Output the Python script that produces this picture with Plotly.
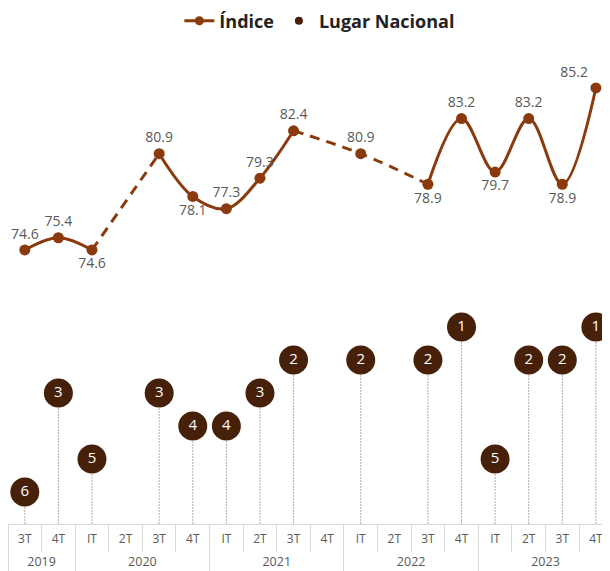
import plotly.graph_objects as go

# ---------------- data ----------------
years = ["2019", "2019",
         "2020", "2020", "2020", "2020",
         "2021", "2021", "2021", "2021",
         "2022", "2022", "2022", "2022",
         "2023", "2023", "2023", "2023"]
quarters = ["3T", "4T",
            "IT", "2T", "3T", "4T",
            "IT", "2T", "3T", "4T",
            "IT", "2T", "3T", "4T",
            "IT", "2T", "3T", "4T"]
indice = [74.6, 75.4, 74.6, None, 80.9, 78.1, 77.3, 79.3, 82.4, None,
          80.9, None, 78.9, 83.2, 79.7, 83.2, 78.9, 85.2]
lugar = [6, 3, 5, None, 3, 4, 4, 3, 2, None, 2, None, 2, 1, 5, 2, 2, 1]

label_pos = ["top center", "top center", "bottom center", "top center",
             "top center", "bottom center", "top center", "top center",
             "top center", "top center", "top center", "top center",
             "bottom center", "top center", "bottom center", "top center",
             "bottom center", "top left"]

# ---------------- style ----------------
LINE_C = "#8B3A0E"
BUB_C = "#47200A"
TXT_C = "#595959"
AX_C = "#D9D9D9"
STEM_C = "#B8ABA2"
FONT = "Open Sans"

n = len(quarters)
xs = list(range(n))  # category positions

# year groups (centres and boundaries derived from the year list)
year_names, year_start = [], []
for i, y in enumerate(years):
    if not year_names or year_names[-1] != y:
        year_names.append(y)
        year_start.append(i)
year_end = year_start[1:] + [n]
year_centres = [(s + e - 1) / 2 for s, e in zip(year_start, year_end)]
year_bounds = [s - 0.5 for s in year_start] + [n - 0.5]
quarter_bounds = [i - 0.5 for i in range(n + 1)]

# dashed chains bridging the missing quarters
valid = [i for i, v in enumerate(indice) if v is not None]
bridges = []
for a, b in zip(valid[:-1], valid[1:]):
    if b - a > 1:
        if bridges and bridges[-1][-1] == a:
            bridges[-1].append(b)
        else:
            bridges.append([a, b])

fig = go.Figure()

# legend entries
fig.add_trace(go.Scatter(x=[None], y=[None], xaxis="x", yaxis="y2",
                         mode="lines+markers", name="Índice",
                         line=dict(color=LINE_C, width=3),
                         marker=dict(color=LINE_C, size=9)))
fig.add_trace(go.Scatter(x=[None], y=[None], xaxis="x", yaxis="y2",
                         mode="markers", name="Lugar Nacional",
                         marker=dict(color=BUB_C, size=8)))

# empty holders so the overlay axes (separators / year labels) are drawn
for ax in ["x2", "x3", "x4"]:
    fig.add_trace(go.Scatter(x=[None], y=[None], xaxis=ax, yaxis="y2",
                             mode="markers", showlegend=False,
                             hoverinfo="skip"))

# dashed bridges
for chain in bridges:
    yy = [indice[i] if i in chain else None for i in range(n)]
    fig.add_trace(go.Scatter(x=xs, y=yy, mode="lines", connectgaps=True,
                             line=dict(color=LINE_C, width=3, shape="spline",
                                       dash="10px,7px"),
                             showlegend=False, hoverinfo="skip",
                             xaxis="x", yaxis="y"))

# main index line
fig.add_trace(go.Scatter(
    x=xs, y=indice, mode="lines+markers+text", connectgaps=False,
    line=dict(color=LINE_C, width=3, shape="spline"),
    marker=dict(color=LINE_C, size=11),
    text=[f"{v:.1f}" if v is not None else "" for v in indice],
    textposition=label_pos,
    textfont=dict(family=FONT, size=14, color=TXT_C),
    cliponaxis=False, showlegend=False, xaxis="x", yaxis="y"))

# stems for the ranking bubbles
Y2_RANGE = [6.97, 0.182]
sx, sy = [], []
for i, r in enumerate(lugar):
    if r is not None:
        sx += [i, i, None]
        sy += [r, Y2_RANGE[0], None]
fig.add_trace(go.Scatter(x=sx, y=sy, mode="lines",
                         line=dict(color=STEM_C, width=1, dash="2px,1px"),
                         showlegend=False, hoverinfo="skip",
                         xaxis="x", yaxis="y2"))

# ranking bubbles
fig.add_trace(go.Scatter(
    x=xs, y=lugar, mode="markers+text",
    marker=dict(color=BUB_C, size=29),
    text=[str(v) if v is not None else "" for v in lugar],
    textposition="middle center",
    textfont=dict(family=FONT, size=15, color="white"),
    cliponaxis=False, showlegend=False, xaxis="x", yaxis="y2"))

# page body has an 8px margin, so the figure occupies 602x563 of the window
W, HT = 602, 563
MT, MB = 32, 47
H = HT - MT - MB
XR = [-0.5, 17.42]
common = dict(range=XR, showgrid=False, zeroline=False, fixedrange=True)
fig.update_layout(
    width=W, height=HT,
    margin=dict(l=0, r=0, t=MT, b=MB, pad=0, autoexpand=False),
    paper_bgcolor="white", plot_bgcolor="white",
    font=dict(family=FONT, color=TXT_C),
    showlegend=True,
    legend=dict(orientation="h", x=0.518, xanchor="center",
                y=1 + 19 / H, yanchor="middle",
                font=dict(family=FONT, size=18, color="#222222", weight="bold"),
                itemwidth=30, traceorder="normal"),
    # quarter labels + axis line
    xaxis=dict(anchor="y2", tickmode="array", tickvals=xs, ticktext=quarters,
               ticks="", showline=True, linecolor=AX_C, linewidth=1,
               tickfont=dict(family=FONT, size=12, color=TXT_C),
               ticklabelstandoff=4, **common),
    # quarter separators
    xaxis2=dict(overlaying="x", anchor="y2", side="bottom",
                tickmode="array", tickvals=quarter_bounds,
                ticks="outside", ticklen=27, tickcolor=AX_C, tickwidth=1,
                showticklabels=False, showline=False, **common),
    # year labels
    xaxis3=dict(overlaying="x", anchor="y2", side="bottom",
                tickmode="array", tickvals=year_centres, ticktext=year_names,
                ticks="outside", ticklen=27, tickcolor="rgba(0,0,0,0)",
                tickfont=dict(family=FONT, size=12.5, color=TXT_C),
                ticklabelstandoff=-1, showline=False, **common),
    # year separators
    xaxis4=dict(overlaying="x", anchor="y2", side="bottom",
                tickmode="array", tickvals=year_bounds,
                ticks="outside", ticklen=50, tickcolor=AX_C, tickwidth=1,
                showticklabels=False, showline=False, **common),
    yaxis=dict(domain=[(H - (290 - 8 - MT)) / H, 1],
               range=[71.98, 88.34], visible=False, anchor="x"),
    yaxis2=dict(domain=[0, (516 - 292) / H],
                range=Y2_RANGE, visible=False, anchor="x"),
)

fig.write_html("out.html")
